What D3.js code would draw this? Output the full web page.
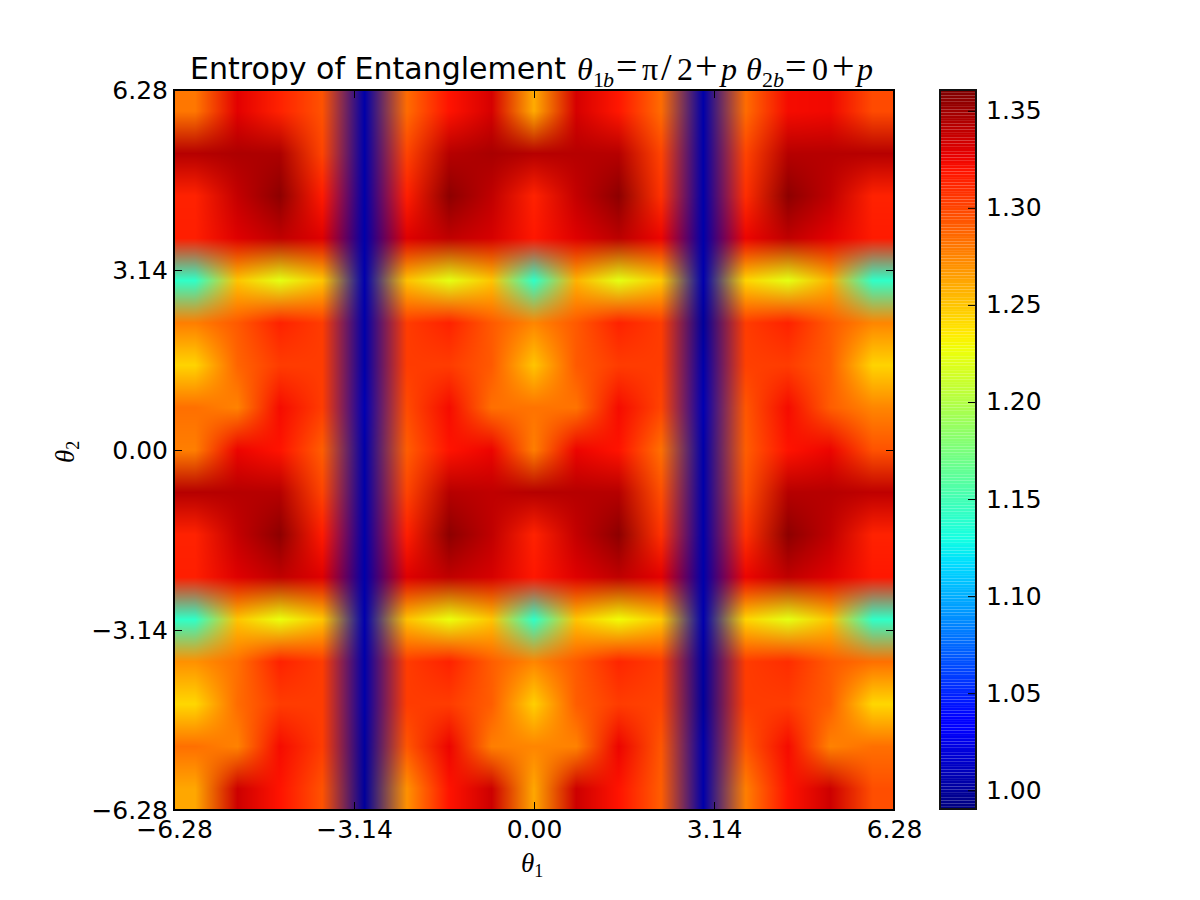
<!DOCTYPE html>
<html>
<head>
<meta charset="utf-8">
<title>Entropy of Entanglement</title>
<script src="https://cdnjs.cloudflare.com/ajax/libs/d3/7.8.5/d3.min.js"></script>
<style>
  html, body { margin: 0; padding: 0; background: #fff; }
  svg { display: block; }
  text { fill: #000; }
</style>
</head>
<body>
<script>
// Entropy of entanglement sampled on a 17 x 17 grid of (theta1, theta2), top row first.
const entropy = [
  [1.280,1.328,1.314,1.295,1.005,1.285,1.320,1.332,1.260,1.332,1.318,1.285,1.005,1.285,1.322,1.324,1.298],
  [1.343,1.345,1.345,1.300,1.005,1.300,1.343,1.347,1.343,1.343,1.343,1.300,1.005,1.300,1.343,1.343,1.343],
  [1.314,1.338,1.356,1.316,1.005,1.315,1.356,1.340,1.314,1.338,1.356,1.308,1.005,1.310,1.356,1.340,1.314],
  [1.315,1.330,1.340,1.330,1.005,1.330,1.340,1.332,1.318,1.330,1.341,1.325,1.005,1.325,1.340,1.328,1.316],
  [1.142,1.250,1.222,1.250,1.006,1.252,1.222,1.250,1.142,1.258,1.222,1.248,1.006,1.245,1.222,1.258,1.142],
  [1.277,1.292,1.314,1.304,1.004,1.304,1.314,1.292,1.275,1.292,1.314,1.304,1.000,1.304,1.314,1.292,1.275],
  [1.245,1.288,1.304,1.304,1.005,1.304,1.304,1.292,1.250,1.292,1.304,1.304,1.005,1.302,1.304,1.290,1.245],
  [1.283,1.276,1.322,1.303,1.007,1.298,1.322,1.284,1.282,1.282,1.322,1.300,1.007,1.293,1.322,1.290,1.275],
  [1.277,1.325,1.320,1.290,1.005,1.290,1.320,1.325,1.278,1.325,1.320,1.283,1.005,1.290,1.320,1.325,1.295],
  [1.342,1.342,1.343,1.300,1.005,1.300,1.342,1.340,1.342,1.342,1.343,1.297,1.005,1.297,1.342,1.342,1.340],
  [1.314,1.338,1.356,1.316,1.005,1.315,1.356,1.340,1.314,1.338,1.356,1.308,1.005,1.308,1.356,1.340,1.314],
  [1.315,1.330,1.340,1.330,1.005,1.330,1.340,1.332,1.318,1.330,1.340,1.328,1.005,1.325,1.340,1.330,1.318],
  [1.142,1.250,1.226,1.250,1.006,1.252,1.226,1.250,1.142,1.250,1.228,1.248,1.006,1.245,1.222,1.250,1.142],
  [1.270,1.284,1.314,1.304,1.005,1.304,1.314,1.290,1.275,1.292,1.312,1.304,1.002,1.304,1.310,1.292,1.283],
  [1.243,1.285,1.304,1.304,1.005,1.304,1.304,1.290,1.246,1.290,1.304,1.300,1.000,1.304,1.304,1.290,1.243],
  [1.283,1.276,1.322,1.303,1.002,1.293,1.325,1.278,1.275,1.276,1.325,1.293,1.005,1.293,1.323,1.276,1.283],
  [1.262,1.335,1.320,1.295,1.000,1.270,1.320,1.335,1.262,1.335,1.320,1.290,1.005,1.277,1.320,1.335,1.297]
];

const thetaTicks = [-6.28, -3.14, 0, 3.14, 6.28];
const colorTicks = [1.00, 1.05, 1.10, 1.15, 1.20, 1.25, 1.30, 1.35];
const thetaDomain = [-6.28, 6.28];
const colorDomain = [0.9906, 1.3607];
const levels = d3.range(256);

// Piecewise jet colour map, one scale per channel.
const jetR = d3.scaleLinear().domain([0, 0.35, 0.66, 0.89, 1]).range([0, 0, 1, 1, 0.5]);
const jetG = d3.scaleLinear().domain([0, 0.125, 0.375, 0.64, 0.91, 1]).range([0, 0, 1, 1, 0, 0]);
const jetB = d3.scaleLinear().domain([0, 0.11, 0.34, 0.65, 1]).range([0.5, 1, 1, 0, 0]);
const jet = t => [jetR(t) * 255, jetG(t) * 255, jetB(t) * 255];

const plot = { left: 174, right: 894, top: 90, bottom: 810 };
const bar = { left: 940, right: 976, top: 90, bottom: 809 };

const x = d3.scaleLinear().domain(thetaDomain).range([plot.left, plot.right]);
const y = d3.scaleLinear().domain(thetaDomain).range([plot.bottom, plot.top]);
const norm = d3.scaleLinear().domain(colorDomain).range([0, 1]).clamp(true);
const barY = d3.scaleLinear().domain(colorDomain).range([bar.bottom - 0.5, bar.top]);

const svg = d3.select("body").append("svg").attr("width", 1200).attr("height", 900);

// Values are colour-mapped first, then the colours are resampled bilinearly.
const cellColors = entropy.map(row => row.map(v => jet(Math.min(255, Math.floor(norm(v) * 256)) / 255)));
const nRows = entropy.length, nCols = entropy[0].length;
const colIndex = d3.scaleLinear().domain([plot.left, plot.right]).range([-0.5, nCols - 0.5]);
const rowIndex = d3.scaleLinear().domain([plot.top, plot.bottom]).range([-0.5, nRows - 0.5]);

const w = plot.right - plot.left, h = plot.bottom - plot.top;
const canvas = document.createElement("canvas");
canvas.width = w; canvas.height = h;
const ctx = canvas.getContext("2d");
const img = ctx.createImageData(w, h);
const clampTo = (v, max) => Math.max(0, Math.min(max, v));
for (let j = 0; j < h; j++) {
  const fr = clampTo(rowIndex(plot.top + j + 0.5), nRows - 1);
  const r0 = Math.floor(fr), r1 = Math.min(nRows - 1, r0 + 1), dr = fr - r0;
  for (let i = 0; i < w; i++) {
    const fc = clampTo(colIndex(plot.left + i + 0.5), nCols - 1);
    const c0 = Math.floor(fc), c1 = Math.min(nCols - 1, c0 + 1), dc = fc - c0;
    const k = (j * w + i) * 4;
    for (let n = 0; n < 3; n++) {
      img.data[k + n] =
        (cellColors[r0][c0][n] * (1 - dc) + cellColors[r0][c1][n] * dc) * (1 - dr) +
        (cellColors[r1][c0][n] * (1 - dc) + cellColors[r1][c1][n] * dc) * dr;
    }
    img.data[k + 3] = 255;
  }
}
ctx.putImageData(img, 0, 0);
svg.append("image")
  .attr("x", plot.left).attr("y", plot.top)
  .attr("width", w).attr("height", h)
  .attr("href", canvas.toDataURL("image/png"));

// Axes: inward ticks on all four sides, labels on the left and bottom only.
const tickFmt = d3.format(".2f");
const tickLen = 8;
function styleAxis(g) {
  g.select(".domain").remove();
  g.selectAll(".tick line").attr("stroke", "#000").attr("stroke-width", 1);
  g.selectAll("text").attr("font-family", "'DejaVu Sans'").attr("font-size", 25).attr("fill", "#000");
}
svg.append("g").attr("transform", `translate(0,${plot.bottom})`)
  .call(d3.axisBottom(x).tickValues(thetaTicks).tickFormat(tickFmt).tickSizeInner(-tickLen).tickSizeOuter(0))
  .call(styleAxis)
  .call(g => g.selectAll("text").attr("y", 28).attr("dy", 0));
svg.append("g").attr("transform", `translate(0,${plot.top})`)
  .call(d3.axisTop(x).tickValues(thetaTicks).tickFormat("").tickSizeInner(-tickLen).tickSizeOuter(0))
  .call(styleAxis);
svg.append("g").attr("transform", `translate(${plot.left},0)`)
  .call(d3.axisLeft(y).tickValues(thetaTicks).tickFormat(tickFmt).tickSizeInner(-tickLen).tickSizeOuter(0))
  .call(styleAxis)
  .call(g => g.selectAll("text").attr("x", -6).attr("dy", 8));
svg.append("g").attr("transform", `translate(${plot.right},0)`)
  .call(d3.axisRight(y).tickValues(thetaTicks).tickFormat("").tickSizeInner(-tickLen).tickSizeOuter(0))
  .call(styleAxis);
svg.append("rect")
  .attr("x", plot.left).attr("y", plot.top).attr("width", w).attr("height", h)
  .attr("fill", "none").attr("stroke", "#000").attr("stroke-width", 2);

// Colour bar: one band per colour level, edges left anti-aliased.
const band = (bar.bottom - bar.top) / levels.length;
svg.append("g").selectAll("rect").data(levels).join("rect")
  .attr("x", bar.left).attr("width", bar.right - bar.left)
  .attr("y", d => bar.bottom - (d + 1) * band)
  .attr("height", band)
  .attr("fill", d => {
    const c = jet(d / 255);
    return d3.rgb(c[0], c[1], c[2]).formatRgb();
  });
svg.append("g").attr("transform", `translate(${bar.right},0)`)
  .call(d3.axisRight(barY).tickValues(colorTicks).tickFormat(tickFmt).tickSizeInner(-tickLen).tickSizeOuter(0))
  .call(styleAxis)
  .call(g => g.selectAll("text").attr("x", 10).attr("dy", 8));
svg.append("rect")
  .attr("x", bar.left).attr("y", bar.top).attr("width", bar.right - bar.left).attr("height", bar.bottom - bar.top)
  .attr("fill", "none").attr("stroke", "#111").attr("stroke-width", 2);

// Title and axis labels, typeset piece by piece like inline math.
const titleBase = 79;
svg.append("text").attr("x", 190).attr("y", titleBase)
  .attr("font-family", "'DejaVu Sans'").attr("font-size", 30)
  .text("Entropy of Entanglement");
const mathBase = 80;
const mathParts = [
  ["θ", 577, 0, true, 32], ["1", 593, 7, false, 22], ["b", 603, 7, true, 22], ["=", 616, -1, false, 38],
  ["π", 642, 0, false, 32], ["/", 661, 0, false, 38], ["2", 677, 0, false, 32],
  ["+", 695, -1, false, 40], ["p", 721, 0, true, 32], ["θ", 746, 0, true, 32],
  ["2", 762, 7, false, 22], ["b", 773, 7, true, 22], ["=", 785, -1, false, 38], ["0", 812, 0, false, 32],
  ["+", 832, -1, false, 40], ["p", 857, 0, true, 32]
];
svg.append("g").selectAll("text").data(mathParts).join("text")
  .attr("x", d => d[1]).attr("y", d => mathBase + d[2])
  .attr("font-family", "'Liberation Serif'")
  .attr("font-style", d => d[3] ? "italic" : "normal")
  .attr("font-size", d => d[4])
  .text(d => d[0]);

const xLabel = svg.append("text").attr("x", 521).attr("y", 872)
  .attr("font-family", "'Liberation Serif'").attr("font-size", 27);
xLabel.append("tspan").attr("font-style", "italic").text("θ");
xLabel.append("tspan").attr("font-size", 18).attr("dy", 5).text("1");

const yLabel = svg.append("text").attr("transform", "translate(74,463) rotate(-90)")
  .attr("font-family", "'Liberation Serif'").attr("font-size", 27);
yLabel.append("tspan").attr("font-style", "italic").text("θ");
yLabel.append("tspan").attr("font-size", 18).attr("dy", 5).text("2");
</script>
</body>
</html>
